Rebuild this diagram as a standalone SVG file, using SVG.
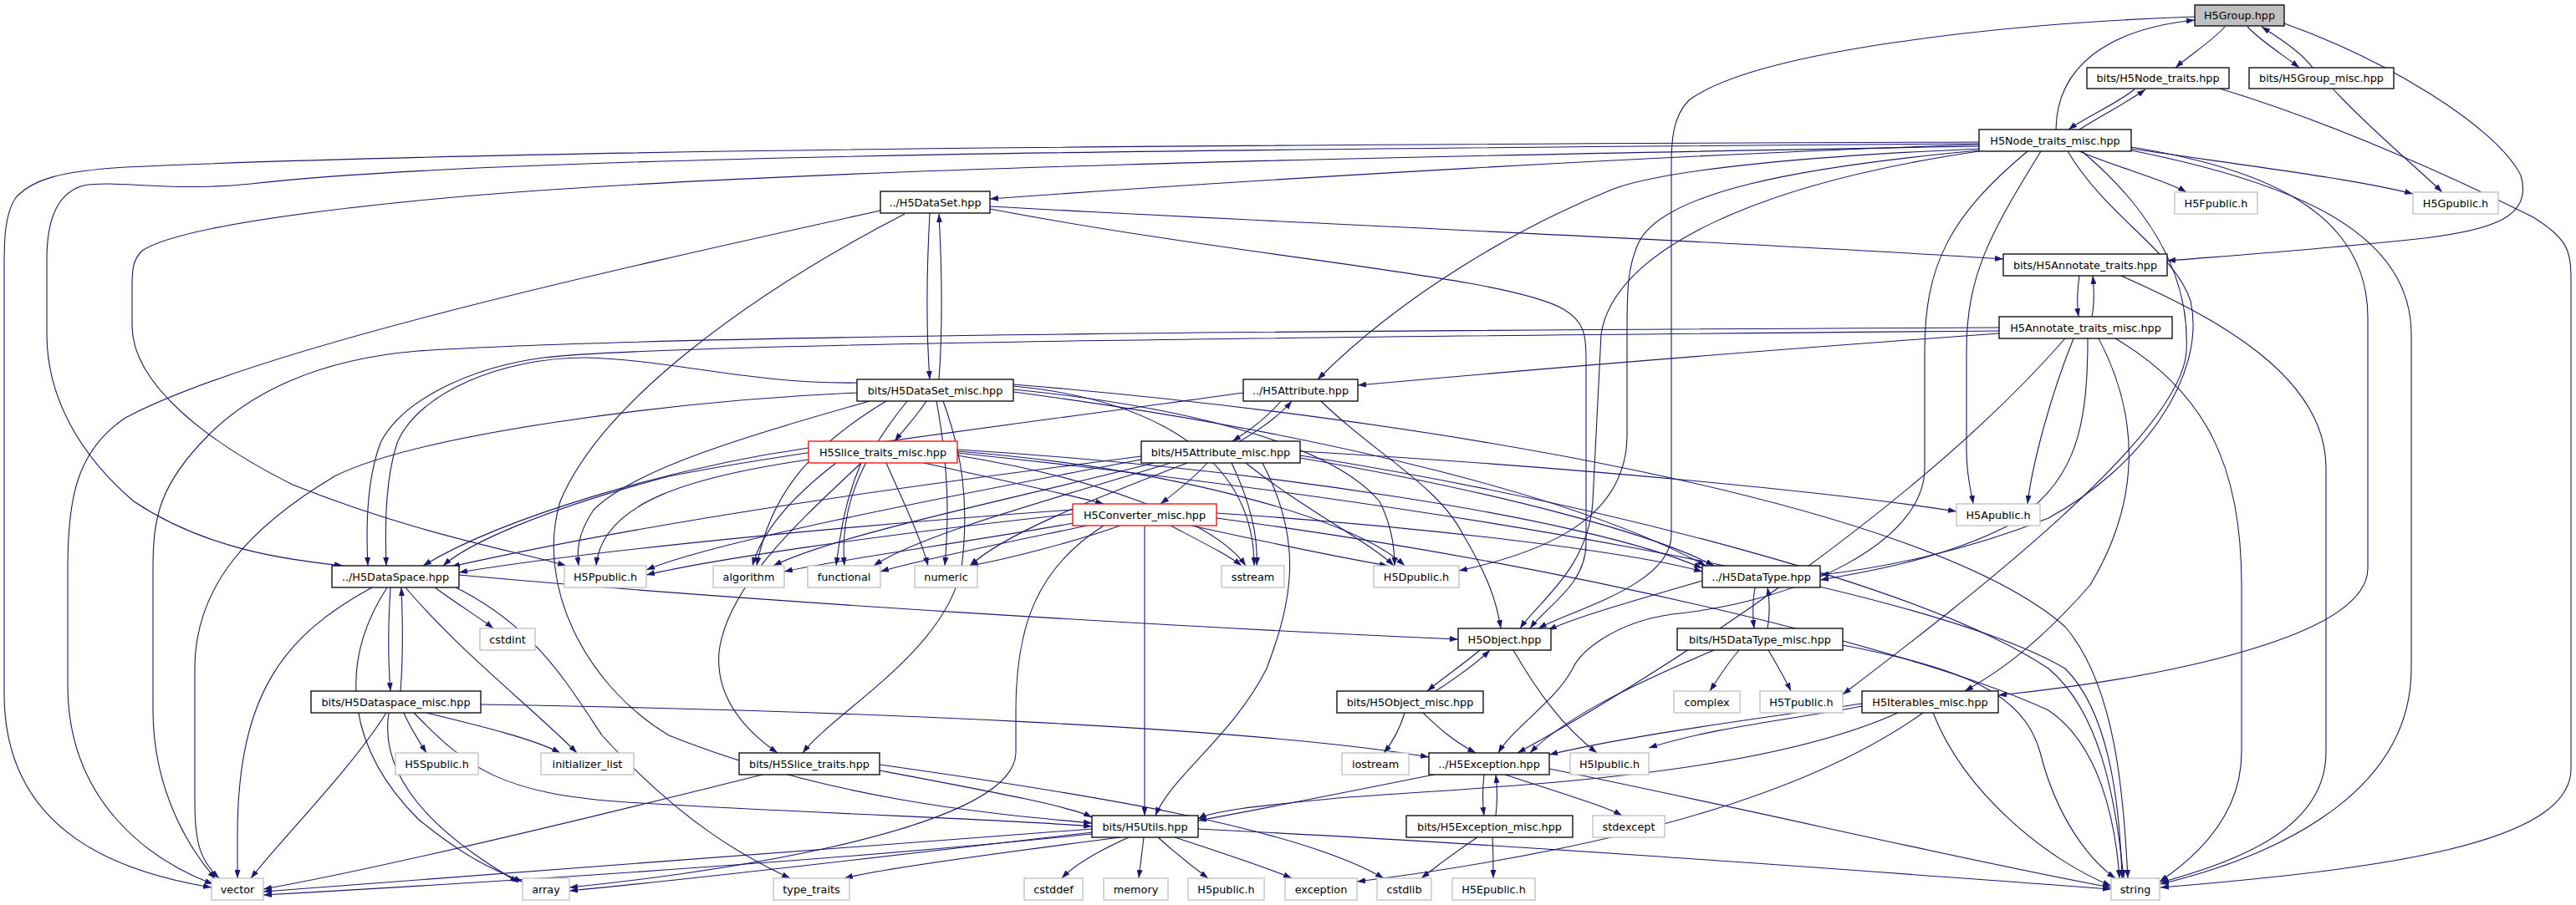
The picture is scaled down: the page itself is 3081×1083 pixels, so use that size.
<svg xmlns="http://www.w3.org/2000/svg" width="3081" height="1083" viewBox="0 0 3081 1083">
<style>
.node rect{fill:#fff;stroke:#000;stroke-width:1.3}
.node.sys rect{stroke:#bfbfbf}
.node.trunc rect{stroke:#ff0000}
.node.main rect{fill:#bfbfbf}
.node text{font-family:"DejaVu Sans","Liberation Sans",sans-serif;font-size:12.8px;fill:#000;text-anchor:middle}
#edges path{fill:none;stroke:#191970;stroke-width:1.1;marker-end:url(#arr)}
</style>
<defs>
<marker id="arr" viewBox="0 0 10 7" refX="10" refY="3.5" markerWidth="10" markerHeight="7" markerUnits="userSpaceOnUse" orient="auto">
<path d="M0,0L10,3.5L0,7z" fill="#191970"/>
</marker>
</defs>
<rect width="3081" height="1083" fill="#fff"/>
<g id="edges">
<path d="M2661,32 C2645,50 2620,65 2602,81"/>
<path d="M2688,32 C2705,50 2730,65 2750,81"/>
<path d="M2766,81 C2752,62 2725,45 2705,32"/>
<path d="M2732,28 C2850,70 2985,150 3015,210 C3030,260 2980,275 2900,285 C2780,298 2680,305 2592,312"/>
<path d="M2625,20 C2400,28 2100,60 2020,120 C2000,140 1999,170 1999,200 L1999,640 C1999,700 1880,730 1840,752"/>
<path d="M2553,107 C2530,125 2495,140 2474,155"/>
<path d="M2487,155 C2510,140 2545,122 2566,107"/>
<path d="M2655,106 C2800,150 2950,220 3030,260 C3070,285 3075,300 3075,330 L3075,920 C3075,1010 2850,1040 2584,1062"/>
<path d="M2790,106 C2830,150 2890,200 2921,230"/>
<path d="M2459,155 C2460,80 2520,35 2625,24"/>
<path d="M2487,181 C2530,200 2590,215 2615,230"/>
<path d="M2549,178 C2700,200 2820,215 2886,232"/>
<path d="M2367,173 C2000,185 1500,215 1184,238"/>
<path d="M2367,170 C1800,172 700,175 150,200 C70,205 40,215 20,235 C5,255 5,290 5,320 L5,830 C5,1000 150,1045 253,1062"/>
<path d="M2367,172 C1500,178 600,185 300,220 C200,230 140,215 100,222 C70,230 56,260 56,310 L56,400 C56,470 90,540 160,600 C250,660 350,670 410,677"/>
<path d="M2367,175 C1800,185 900,200 500,240 C300,260 200,280 170,300 C160,310 158,320 158,340 L158,390 C158,460 250,530 350,580 C500,640 620,660 677,677"/>
<path d="M2370,178 C2200,185 2000,200 1930,226 C1820,270 1680,350 1576,454"/>
<path d="M2367,180 C2150,200 1990,230 1960,290 C1946,320 1946,350 1946,400 L1946,520 C1946,620 1850,660 1745,683"/>
<path d="M2367,181 C2100,220 1930,300 1915,400 L1905,600 C1900,680 1840,720 1818,752"/>
<path d="M2473,181 C2520,260 2600,300 2620,360 C2640,450 2560,560 2450,620 C2350,660 2250,680 2177,688"/>
<path d="M2441,181 C2380,280 2352,330 2352,420 L2352,540 C2352,570 2358,590 2360,603"/>
<path d="M2425,181 C2330,260 2302,320 2302,420 L2302,560 C2302,650 2150,720 2000,735 C1930,745 1890,780 1881,800 C1860,840 1810,870 1792,901"/>
<path d="M2490,181 C2560,240 2620,320 2615,420 C2610,520 2350,720 2204,831"/>
<path d="M2549,176 C2700,200 2832,250 2832,380 L2832,680 C2832,760 2600,810 2390,832"/>
<path d="M2549,180 C2750,220 2884,280 2884,400 L2884,800 C2884,960 2700,1030 2584,1058"/>
<path d="M1112,255 C1108,330 1108,400 1112,454"/>
<path d="M1123,454 C1127,400 1127,330 1123,256"/>
<path d="M1184,247 C1600,270 2100,290 2396,310"/>
<path d="M1184,250 C1500,310 1800,330 1870,370 C1895,385 1897,400 1897,430 L1897,650 C1897,700 1850,725 1830,752"/>
<path d="M1053,252 C700,330 300,420 150,500 C90,540 81,600 81,680 L81,820 C81,960 180,1030 255,1058"/>
<path d="M1082,256 C900,350 720,480 670,600 C640,700 700,820 800,880 C1000,960 1200,975 1306,985"/>
<path d="M2487,330 C2484,350 2484,365 2486,379"/>
<path d="M2502,379 C2505,365 2505,350 2503,330"/>
<path d="M2537,330 C2650,380 2782,450 2782,560 L2782,900 C2782,990 2680,1030 2584,1056"/>
<path d="M2391,399 C2100,420 1800,445 1624,461"/>
<path d="M2391,392 C1700,395 800,400 500,420 C380,430 300,470 250,520 C190,580 183,620 183,680 L183,850 C183,950 230,1020 258,1052"/>
<path d="M2391,396 C1700,402 800,410 650,428 C560,440 480,480 455,530 C440,570 437,620 440,677"/>
<path d="M2470,405 C2300,600 2000,800 1815,901"/>
<path d="M2480,405 C2450,480 2430,560 2425,603"/>
<path d="M2497,405 C2497,520 2480,580 2400,630 C2320,670 2230,685 2177,694"/>
<path d="M2510,405 C2560,500 2560,600 2500,700 C2430,780 2380,810 2350,827"/>
<path d="M2530,405 C2640,470 2681,560 2681,700 L2681,900 C2681,980 2620,1030 2583,1055"/>
<path d="M1025,458 C900,460 800,430 700,428 C600,428 500,470 475,530 C462,570 460,620 462,677"/>
<path d="M1025,470 C800,480 500,520 400,570 C300,630 233,700 233,800 L233,960 C233,1010 240,1030 262,1051"/>
<path d="M1108,480 C1095,500 1080,515 1070,528"/>
<path d="M1128,480 C1150,540 1160,600 1150,680 C1130,780 1000,850 960,901"/>
<path d="M1040,480 C900,520 760,560 710,610 C690,640 690,660 692,677"/>
<path d="M1060,480 C960,540 920,600 905,677"/>
<path d="M1085,480 C1020,560 1005,620 1010,677"/>
<path d="M1120,480 C1135,560 1135,620 1130,677"/>
<path d="M1212,462 C1400,480 1500,560 1500,677"/>
<path d="M1212,466 C1450,490 1600,540 1650,600 C1665,630 1668,660 1668,677"/>
<path d="M1212,469 C1600,520 1900,600 2040,677"/>
<path d="M1212,460 C1700,500 2300,600 2470,750 C2530,820 2540,950 2545,1051"/>
<path d="M1532,480 C1515,500 1495,515 1474,528"/>
<path d="M1483,528 C1505,515 1530,498 1545,480"/>
<path d="M1580,480 C1640,540 1720,580 1750,640 C1780,690 1790,720 1795,752"/>
<path d="M1487,470 C1200,510 950,540 800,570 C650,610 560,650 530,677"/>
<path d="M1444,554 C1425,575 1405,590 1388,603"/>
<path d="M1473,554 C1495,600 1505,640 1503,677"/>
<path d="M1490,554 C1560,610 1640,650 1667,677"/>
<path d="M1555,540 C1900,560 2200,590 2340,612"/>
<path d="M1555,548 C1800,590 1980,640 2050,677"/>
<path d="M1555,545 C1900,600 2300,700 2450,800 C2510,850 2530,950 2540,1051"/>
<path d="M1510,554 C1560,650 1545,720 1515,800 C1475,880 1400,930 1382,976"/>
<path d="M1365,546 C1100,580 800,620 540,678"/>
<path d="M1365,550 C1100,600 850,650 773,682"/>
<path d="M1380,554 C1200,600 1000,640 925,677"/>
<path d="M1400,554 C1250,600 1100,640 1045,677"/>
<path d="M1420,554 C1300,600 1200,640 1160,677"/>
<path d="M967,536 C800,560 600,620 506,677"/>
<path d="M967,550 C830,570 720,600 713,677"/>
<path d="M1000,554 C940,600 910,640 900,677"/>
<path d="M1030,554 C1010,600 1005,640 1000,677"/>
<path d="M1060,554 C1080,600 1100,640 1110,677"/>
<path d="M1145,545 C1300,570 1450,620 1490,677"/>
<path d="M1145,540 C1400,560 1620,620 1680,677"/>
<path d="M1145,538 C1500,560 1900,620 2036,680"/>
<path d="M1105,554 C1200,575 1270,590 1320,603"/>
<path d="M1145,542 C1700,600 2300,700 2470,800 C2520,850 2535,950 2538,1051"/>
<path d="M1030,554 C960,620 870,700 860,780 C855,840 900,880 930,901"/>
<path d="M1283,610 C1000,630 700,660 549,685"/>
<path d="M1283,615 C1050,640 850,670 773,688"/>
<path d="M1290,625 C1150,650 1000,670 938,684"/>
<path d="M1300,629 C1200,650 1100,670 1053,684"/>
<path d="M1340,629 C1280,650 1200,670 1160,677"/>
<path d="M1400,629 C1440,650 1470,665 1485,677"/>
<path d="M1425,629 C1520,650 1620,670 1660,677"/>
<path d="M1455,614 C1700,630 1950,660 2036,684"/>
<path d="M1455,620 C1900,680 2300,780 2450,850 C2510,890 2530,980 2535,1051"/>
<path d="M1369,629 L1369,976"/>
<path d="M1320,629 C1240,680 1215,750 1215,850 L1215,900 C1215,1000 800,1050 681,1062"/>
<path d="M549,688 C900,720 1400,750 1744,765"/>
<path d="M520,703 C550,725 575,740 590,752"/>
<path d="M445,703 C340,760 284,830 284,1000 L284,1051"/>
<path d="M463,703 C400,800 420,900 500,980 C560,1030 600,1045 625,1055"/>
<path d="M467,703 C464,750 464,790 467,827"/>
<path d="M479,827 C482,790 482,750 480,703"/>
<path d="M485,703 C550,780 640,850 690,901"/>
<path d="M545,703 C640,750 680,820 720,880 C820,990 900,1030 945,1051"/>
<path d="M483,853 C490,870 500,885 510,901"/>
<path d="M510,853 C580,870 640,885 670,901"/>
<path d="M462,853 C420,920 340,1000 300,1051"/>
<path d="M465,853 C450,950 560,1020 620,1056"/>
<path d="M495,853 C560,920 600,950 750,960 C1000,975 1200,980 1306,989"/>
<path d="M575,843 C1000,850 1500,870 1709,906"/>
<path d="M912,927 C700,980 450,1040 315,1064"/>
<path d="M1052,922 C1200,950 1280,965 1306,978"/>
<path d="M1052,915 C1300,950 1550,990 1655,1051"/>
<path d="M2099,703 C2096,720 2096,735 2098,752"/>
<path d="M2114,752 C2117,735 2117,720 2114,703"/>
<path d="M2036,695 C1950,720 1880,740 1852,754"/>
<path d="M2080,778 C2065,795 2055,812 2045,827"/>
<path d="M2115,778 C2125,795 2135,812 2142,827"/>
<path d="M2050,778 C1950,820 1870,860 1830,901"/>
<path d="M2204,772 C2350,800 2420,830 2440,900 C2460,980 2500,1030 2530,1051"/>
<path d="M1770,778 C1750,795 1725,812 1707,827"/>
<path d="M1717,827 C1740,812 1765,795 1782,778"/>
<path d="M1810,778 C1840,830 1870,870 1910,901"/>
<path d="M1680,853 C1675,870 1668,885 1655,901"/>
<path d="M1702,853 C1720,870 1735,885 1765,901"/>
<path d="M2227,845 C2150,860 2050,870 1972,895"/>
<path d="M2227,842 C2100,860 1950,880 1853,903"/>
<path d="M2270,853 C2100,930 1800,940 1600,955 C1500,965 1450,970 1433,980"/>
<path d="M2300,853 C2150,960 1900,1020 1623,1055"/>
<path d="M2312,853 C2350,950 2450,1030 2525,1060"/>
<path d="M1775,927 C1773,945 1773,960 1775,976"/>
<path d="M1789,976 C1791,960 1791,945 1789,927"/>
<path d="M1715,927 C1600,950 1500,970 1433,982"/>
<path d="M1800,927 C1870,950 1920,965 1940,976"/>
<path d="M1853,920 C2100,970 2350,1030 2525,1062"/>
<path d="M1767,1002 C1740,1020 1720,1035 1700,1051"/>
<path d="M1785,1002 C1786,1020 1786,1035 1786,1051"/>
<path d="M1306,992 C900,1020 500,1050 315,1067"/>
<path d="M1306,998 C1000,1030 600,1055 315,1071"/>
<path d="M1306,996 C1100,1020 850,1050 681,1066"/>
<path d="M1340,1002 C1200,1020 1050,1040 1010,1051"/>
<path d="M1350,1002 C1310,1020 1285,1035 1270,1051"/>
<path d="M1368,1002 L1362,1051"/>
<path d="M1385,1002 C1405,1020 1430,1040 1445,1051"/>
<path d="M1405,1002 C1460,1020 1520,1040 1545,1051"/>
<path d="M1433,992 C1800,1010 2200,1040 2525,1064"/>
</g>
<g id="n_H5Group" class="node main"><rect x="2625" y="6" width="107" height="25"/><text x="2678.5" y="23">H5Group.hpp</text></g>
<g id="n_Node_traits" class="node"><rect x="2496" y="81" width="170" height="25"/><text x="2581" y="98">bits/H5Node_traits.hpp</text></g>
<g id="n_Group_misc" class="node"><rect x="2690" y="81" width="173" height="25"/><text x="2776.5" y="98">bits/H5Group_misc.hpp</text></g>
<g id="n_Node_traits_misc" class="node"><rect x="2367" y="155" width="182" height="26"/><text x="2458" y="172.5">H5Node_traits_misc.hpp</text></g>
<g id="n_DataSet" class="node"><rect x="1053" y="229" width="131" height="26"/><text x="1118.5" y="246.5">../H5DataSet.hpp</text></g>
<g id="n_H5Fpublic" class="node sys"><rect x="2601" y="230" width="99" height="26"/><text x="2650.5" y="247.5">H5Fpublic.h</text></g>
<g id="n_H5Gpublic" class="node sys"><rect x="2886" y="230" width="102" height="26"/><text x="2937" y="247.5">H5Gpublic.h</text></g>
<g id="n_Annotate_traits" class="node"><rect x="2396" y="304" width="196" height="26"/><text x="2494" y="321.5">bits/H5Annotate_traits.hpp</text></g>
<g id="n_Annotate_traits_misc" class="node"><rect x="2391" y="379" width="207" height="26"/><text x="2494.5" y="396.5">H5Annotate_traits_misc.hpp</text></g>
<g id="n_DataSet_misc" class="node"><rect x="1025" y="454" width="187" height="26"/><text x="1118.5" y="471.5">bits/H5DataSet_misc.hpp</text></g>
<g id="n_Attribute" class="node"><rect x="1487" y="454" width="137" height="26"/><text x="1555.5" y="471.5">../H5Attribute.hpp</text></g>
<g id="n_Slice_traits_misc" class="node trunc"><rect x="967" y="528" width="178" height="26"/><text x="1056" y="545.5">H5Slice_traits_misc.hpp</text></g>
<g id="n_Attribute_misc" class="node"><rect x="1365" y="528" width="190" height="26"/><text x="1460" y="545.5">bits/H5Attribute_misc.hpp</text></g>
<g id="n_H5Apublic" class="node sys"><rect x="2340" y="603" width="100" height="26"/><text x="2390" y="620.5">H5Apublic.h</text></g>
<g id="n_Converter_misc" class="node trunc"><rect x="1283" y="603" width="172" height="26"/><text x="1369" y="620.5">H5Converter_misc.hpp</text></g>
<g id="n_DataSpace" class="node"><rect x="397" y="677" width="152" height="26"/><text x="473" y="694.5">../H5DataSpace.hpp</text></g>
<g id="n_H5Ppublic" class="node sys"><rect x="675" y="677" width="98" height="26"/><text x="724" y="694.5">H5Ppublic.h</text></g>
<g id="n_algorithm" class="node sys"><rect x="853" y="677" width="85" height="26"/><text x="895.5" y="694.5">algorithm</text></g>
<g id="n_functional" class="node sys"><rect x="966" y="677" width="87" height="26"/><text x="1009.5" y="694.5">functional</text></g>
<g id="n_numeric" class="node sys"><rect x="1094" y="677" width="75" height="26"/><text x="1131.5" y="694.5">numeric</text></g>
<g id="n_sstream" class="node sys"><rect x="1461" y="677" width="75" height="26"/><text x="1498.5" y="694.5">sstream</text></g>
<g id="n_H5Dpublic" class="node sys"><rect x="1643" y="677" width="102" height="26"/><text x="1694" y="694.5">H5Dpublic.h</text></g>
<g id="n_DataType" class="node"><rect x="2036" y="677" width="141" height="26"/><text x="2106.5" y="694.5">../H5DataType.hpp</text></g>
<g id="n_cstdint" class="node sys"><rect x="574" y="752" width="66" height="26"/><text x="607" y="769.5">cstdint</text></g>
<g id="n_Object" class="node"><rect x="1744" y="752" width="111" height="26"/><text x="1799.5" y="769.5">H5Object.hpp</text></g>
<g id="n_DataType_misc" class="node"><rect x="2006" y="752" width="198" height="26"/><text x="2105" y="769.5">bits/H5DataType_misc.hpp</text></g>
<g id="n_Dataspace_misc" class="node"><rect x="372" y="827" width="203" height="26"/><text x="473.5" y="844.5">bits/H5Dataspace_misc.hpp</text></g>
<g id="n_Object_misc" class="node"><rect x="1599" y="827" width="175" height="26"/><text x="1686.5" y="844.5">bits/H5Object_misc.hpp</text></g>
<g id="n_complex" class="node sys"><rect x="2002" y="827" width="79" height="26"/><text x="2041.5" y="844.5">complex</text></g>
<g id="n_H5Tpublic" class="node sys"><rect x="2105" y="827" width="99" height="26"/><text x="2154.5" y="844.5">H5Tpublic.h</text></g>
<g id="n_Iterables_misc" class="node"><rect x="2227" y="827" width="163" height="26"/><text x="2308.5" y="844.5">H5Iterables_misc.hpp</text></g>
<g id="n_H5Spublic" class="node sys"><rect x="473" y="901" width="99" height="26"/><text x="522.5" y="918.5">H5Spublic.h</text></g>
<g id="n_initializer_list" class="node sys"><rect x="647" y="901" width="111" height="26"/><text x="702.5" y="918.5">initializer_list</text></g>
<g id="n_Slice_traits" class="node"><rect x="884" y="901" width="168" height="26"/><text x="968" y="918.5">bits/H5Slice_traits.hpp</text></g>
<g id="n_iostream" class="node sys"><rect x="1605" y="901" width="80" height="26"/><text x="1645" y="918.5">iostream</text></g>
<g id="n_Exception" class="node"><rect x="1709" y="901" width="144" height="26"/><text x="1781" y="918.5">../H5Exception.hpp</text></g>
<g id="n_H5Ipublic" class="node sys"><rect x="1878" y="901" width="94" height="26"/><text x="1925" y="918.5">H5Ipublic.h</text></g>
<g id="n_Utils" class="node"><rect x="1306" y="976" width="127" height="26"/><text x="1369.5" y="993.5">bits/H5Utils.hpp</text></g>
<g id="n_Exception_misc" class="node"><rect x="1682" y="976" width="199" height="26"/><text x="1781.5" y="993.5">bits/H5Exception_misc.hpp</text></g>
<g id="n_stdexcept" class="node sys"><rect x="1905" y="976" width="86" height="26"/><text x="1948" y="993.5">stdexcept</text></g>
<g id="n_vector" class="node sys"><rect x="253" y="1051" width="62" height="26"/><text x="284" y="1068.5">vector</text></g>
<g id="n_array" class="node sys"><rect x="625" y="1051" width="56" height="26"/><text x="653" y="1068.5">array</text></g>
<g id="n_type_traits" class="node sys"><rect x="925" y="1051" width="91" height="26"/><text x="970.5" y="1068.5">type_traits</text></g>
<g id="n_cstddef" class="node sys"><rect x="1225" y="1051" width="70" height="26"/><text x="1260" y="1068.5">cstddef</text></g>
<g id="n_memory" class="node sys"><rect x="1320" y="1051" width="77" height="26"/><text x="1358.5" y="1068.5">memory</text></g>
<g id="n_H5public" class="node sys"><rect x="1421" y="1051" width="91" height="26"/><text x="1466.5" y="1068.5">H5public.h</text></g>
<g id="n_exception" class="node sys"><rect x="1537" y="1051" width="86" height="26"/><text x="1580" y="1068.5">exception</text></g>
<g id="n_cstdlib" class="node sys"><rect x="1647" y="1051" width="65" height="26"/><text x="1679.5" y="1068.5">cstdlib</text></g>
<g id="n_H5Epublic" class="node sys"><rect x="1737" y="1051" width="99" height="26"/><text x="1786.5" y="1068.5">H5Epublic.h</text></g>
<g id="n_string" class="node sys"><rect x="2525" y="1051" width="58" height="26"/><text x="2554" y="1068.5">string</text></g>
</svg>
